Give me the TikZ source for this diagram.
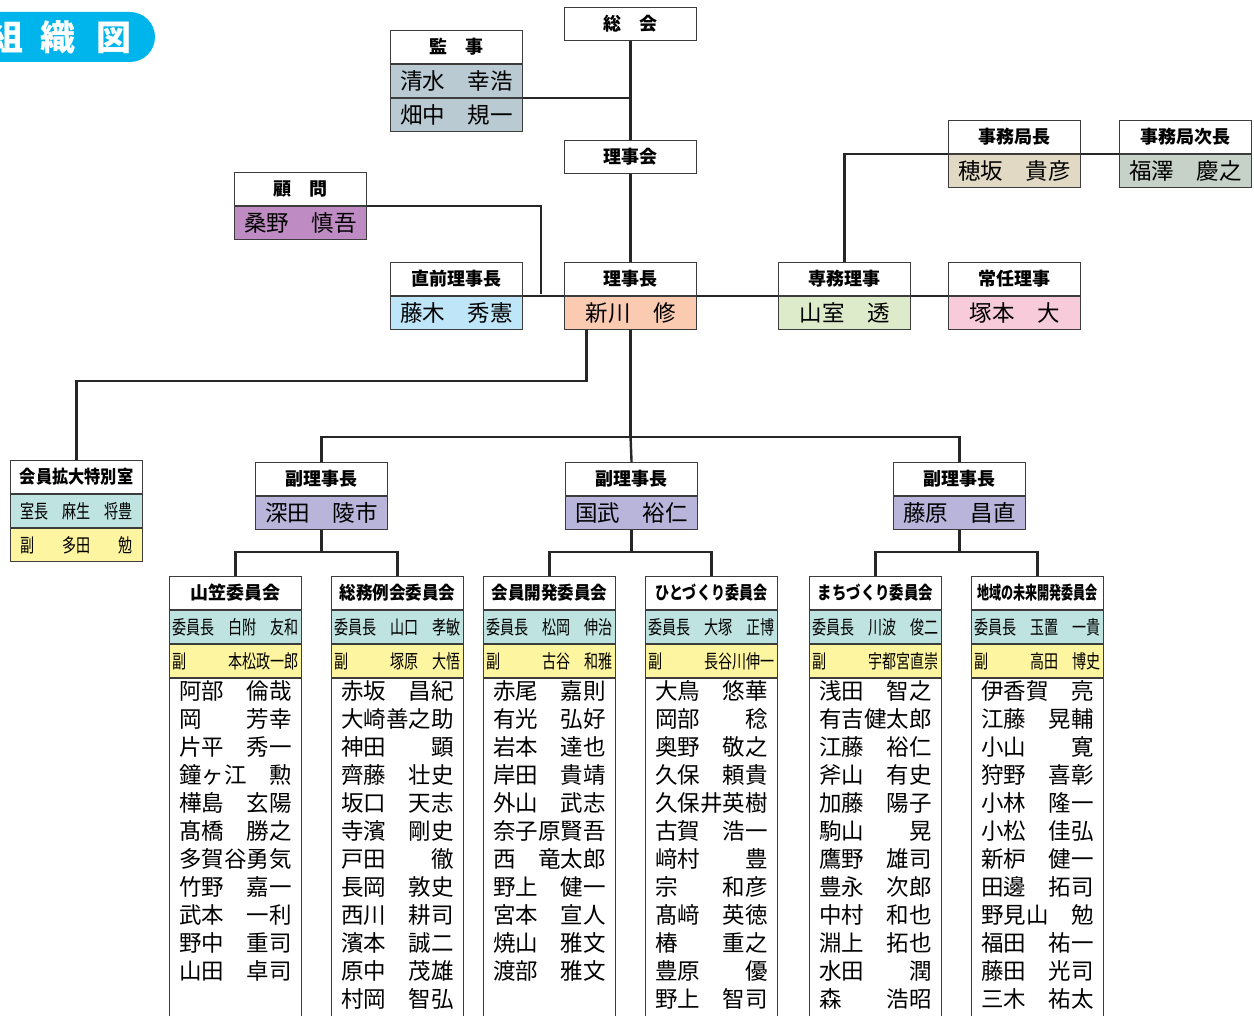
\documentclass[tikz,border=0pt]{standalone}
\usepackage{fontspec}
\newfontfamily\cjk{Noto Sans CJK JP}
\usetikzlibrary{positioning,calc}

\definecolor{titleblue}{RGB}{0,180,236}
\definecolor{boxline}{RGB}{60,60,60}
\definecolor{kansacol}{RGB}{185,202,211}
\definecolor{komoncol}{RGB}{190,140,194}
\definecolor{zencol}{RGB}{190,229,248}
\definecolor{rijicol}{RGB}{251,203,177}
\definecolor{senmucol}{RGB}{222,235,203}
\definecolor{jonincol}{RGB}{248,203,219}
\definecolor{jimucol}{RGB}{225,217,195}
\definecolor{jisecol}{RGB}{198,209,199}
\definecolor{fukucol}{RGB}{185,181,218}
\definecolor{chaircol}{RGB}{190,227,224}
\definecolor{vicecol}{RGB}{254,245,160}

\newcommand{\narrow}[2][0.74]{\scalebox{#1}[1]{#2}}

\tikzset{
  hd/.style={draw=boxline, line width=1.1pt, fill=white, minimum width=132pt,
    minimum height=33pt, inner sep=0pt, font=\cjk\bfseries\fontsize{18}{18}\selectfont},
  nm/.style={draw=boxline, line width=1.1pt, fill=#1, minimum width=132pt,
    minimum height=33pt, inner sep=0pt, font=\cjk\fontsize{22.5}{22.5}\selectfont},
  sm/.style={draw=boxline, line width=1.1pt, fill=#1, minimum width=132pt,
    minimum height=33pt, inner sep=0pt, font=\cjk\fontsize{19}{19}\selectfont},
  list/.style={draw=boxline, line width=1.1pt, fill=white, minimum width=132pt,
    minimum height=341pt, inner sep=0pt},
  member/.style={inner sep=0pt, font=\cjk\fontsize{22.5}{22.5}\selectfont},
  link/.style={line width=2.4pt, draw=black!85},
  title/.style={inner sep=0pt, text=white, font=\cjk\bfseries\fontsize{35}{35}\selectfont}
}

\begin{document}
\begin{tikzpicture}[x=1pt,y=-1pt]
    \clip (0,0) rectangle (1254,1016);

    % title
    \fill[titleblue, rounded corners=25pt] (-40,12) rectangle (155,62);
    \node[title] (ttl) at (60,37) {組\hspace{17pt}織\hspace{21pt}図};

    % general meeting, auditors, board
    \node[hd, anchor=north west] (sokai) at (564,7) {総　会};
    \node[hd, anchor=north west] (kansa) at (390,30) {監　事};
    \node[nm=kansacol, below=0pt of kansa] (kansa1) {清水　幸浩};
    \node[nm=kansacol, below=0pt of kansa1] (kansa2) {畑中　規一};
    \node[hd, anchor=north west] (rijikai) at (564,140) {理事会};

    % officers
    \node[hd, anchor=north west] (komon) at (234,172) {顧　問};
    \node[nm=komoncol, below=0pt of komon] (komon1) {桑野　慎吾};
    \node[hd, anchor=north west] (zen) at (390,262) {直前理事長};
    \node[nm=zencol, below=0pt of zen] (zen1) {藤木　秀憲};
    \node[hd, anchor=north west] (rijicho) at (564,262) {理事長};
    \node[nm=rijicol, below=0pt of rijicho] (rijicho1) {新川　修};
    \node[hd, anchor=north west] (senmu) at (778,262) {専務理事};
    \node[nm=senmucol, below=0pt of senmu] (senmu1) {山室　透};
    \node[hd, anchor=north west] (jonin) at (948,262) {常任理事};
    \node[nm=jonincol, below=0pt of jonin] (jonin1) {塚本　大};
    \node[hd, anchor=north west] (jimu) at (948,120) {事務局長};
    \node[nm=jimucol, below=0pt of jimu] (jimu1) {穂坂　貴彦};
    \node[hd, anchor=north west] (jise) at (1119,120) {事務局次長};
    \node[nm=jisecol, below=0pt of jise] (jise1) {福澤　慶之};

    % special room
    \node[hd, anchor=north west] (toku) at (10,460) {\narrow[0.9]{会員拡大特別室}};
    \node[sm=chaircol, below=0pt of toku] (toku1) {\narrow{室長　麻生　将豊}};
    \node[sm=vicecol, below=0pt of toku1] (toku2) {\narrow{副　　多田　　勉}};

    % vice chairs
    \node[hd, anchor=north west] (fuku1) at (255,462) {副理事長};
    \node[nm=fukucol, below=0pt of fuku1] (fuku1a) {深田　陵市};
    \node[hd, anchor=north west] (fuku2) at (565,462) {副理事長};
    \node[nm=fukucol, below=0pt of fuku2] (fuku2a) {国武　裕仁};
    \node[hd, anchor=north west] (fuku3) at (893,462) {副理事長};
    \node[nm=fukucol, below=0pt of fuku3] (fuku3a) {藤原　昌直};

    % committees
    \foreach \k/\cx/\sx/\ttl/\chair/\vice/\names in {
      1/169/1/山笠委員会/白附　友和/本松政一郎/{阿部　倫哉,岡　　芳幸,片平　秀一,鐘ヶ江　勲,樺島　玄陽,髙橋　勝之,多賀谷勇気,竹野　嘉一,武本　一利,野中　重司,山田　卓司},
      2/331/0.92/総務例会委員会/山口　孝敏/塚原　大悟/{赤坂　昌紀,大崎善之助,神田　　顕,齊藤　壮史,坂口　天志,寺濱　剛史,戸田　　徹,長岡　敦史,西川　耕司,濱本　誠二,原中　茂雄,村岡　智弘},
      3/483/0.92/会員開発委員会/松岡　伸治/古谷　和雅/{赤尾　嘉則,有光　弘好,岩本　達也,岸田　貴靖,外山　武志,奈子原賢吾,西　竜太郎,野上　健一,宮本　宣人,焼山　雅文,渡部　雅文},
      4/645/0.78/ひとづくり委員会/大塚　正博/長谷川伸一/{大鳥　悠華,岡部　　稔,奥野　敬之,久保　頼貴,久保井英樹,古賀　浩一,﨑村　　豊,宗　　和彦,髙﨑　英徳,椿　　重之,豊原　　優,野上　智司},
      5/809/0.8/まちづくり委員会/川波　俊二/宇都宮直崇/{浅田　智之,有吉健太郎,江藤　裕仁,斧山　有史,加藤　陽子,駒山　　晃,鷹野　雄司,豊永　次郎,中村　和也,淵上　拓也,水田　　潤,森　　浩昭},
      6/971/0.67/地域の未来開発委員会/玉置　一貴/高田　博史/{伊香賀　亮,江藤　晃輔,小山　　寛,狩野　喜彰,小林　隆一,小松　佳弘,新枦　健一,田邊　拓司,野見山　勉,福田　祐一,藤田　光司,三木　祐太}}
    {
      \node[hd, anchor=north west] (com\k) at (\cx,576) {\narrow[\sx]{\ttl}};
      \node[sm=chaircol, below=0pt of com\k] (com\k-a) {\narrow{委員長　\chair}};
      \node[sm=vicecol, below=0pt of com\k-a] (com\k-b) {\narrow{副　　　\vice}};
      \node[list, below=0pt of com\k-b] (com\k-c) {};
      \foreach \nm [count=\i] in \names
        \node[member] (com\k-m\i) at ($(com\k-c.north)+(0,{28*\i-15})$) {\nm};
    }

    % links at the top
    \draw[link] (sokai) -- (rijikai);
    \draw[link] (kansa1.south east) -- (kansa1.south east -| sokai.south);
    \draw[link] (rijikai) -- (rijicho);
    \coordinate (kj) at (541,294);
    \draw[link] (komon.south east) -| (kj);
    \draw[link] (zen.south east) -- (rijicho.south west);
    \draw[link] (rijicho.south east) -- (senmu.south west);
    \draw[link] (senmu.south east) -- (jonin.south west);
    \draw[link] (senmu.north) |- (jimu.south west);
    \draw[link] (jimu.south east) -- (jise.south west);

    % links below the chairman
    \draw[link] ([xshift=-44pt]rijicho1.south) -- ++(0,51) -| (toku.north);
    \draw[link] (rijicho1.south) -- ++(0,107) coordinate (bar);
    \draw[link] (fuku1.north) |- (bar) -| (fuku3.north);
    \draw[link] (bar) -- (fuku2.north);

    % links to the committees
    \draw[link] (fuku1a.south) -- ++(0,22) coordinate (b1);
    \draw[link] (com1.north) |- (b1) -| (com2.north);
    \draw[link] (fuku2a.south) -- ++(0,22) coordinate (b2);
    \draw[link] (com3.north) |- (b2) -| (com4.north);
    \draw[link] (fuku3a.south) -- ++(0,22) coordinate (b3);
    \draw[link] (com5.north) |- (b3) -| (com6.north);
\end{tikzpicture}
\end{document}
